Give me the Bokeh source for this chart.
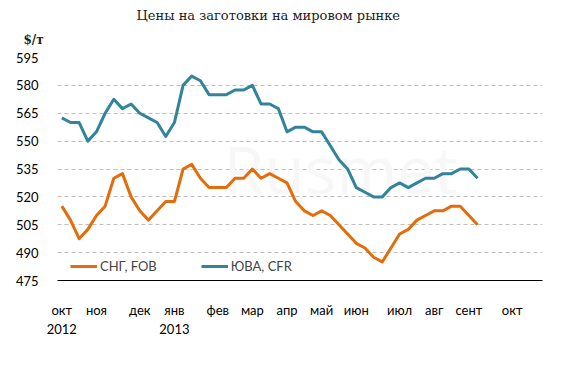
from bokeh.plotting import figure
from bokeh.models import Legend, LegendItem, FixedTicker, Label, Range1d, Title
from bokeh.embed import file_html
from bokeh.resources import INLINE

# weekly price observations, Oct 2012 - Sep 2013 ($/t)
weeks = list(range(49))
cis_fob = [515, 507.5, 497.5, 502.5, 510, 515, 530, 532.5, 520, 512.5,
           507.5, 512.5, 517.5, 517.5, 535, 537.5, 530, 525, 525, 525,
           530, 530, 535, 530, 532.5, 530, 527.5, 517.5, 512.5, 510,
           512.5, 510, 505, 500, 495, 492.5, 487.5, 485, 492.5, 500,
           502.5, 507.5, 510, 512.5, 512.5, 515, 515, 510, 505]
sea_cfr = [562.5, 560, 560, 550, 555, 565, 572.5, 567.5, 570, 565,
           562.5, 560, 552.5, 560, 580, 585, 582.5, 575, 575, 575,
           577.5, 577.5, 580, 570, 570, 567.5, 555, 557.5, 557.5, 555,
           555, 547.5, 540, 535, 525, 522.5, 520, 520, 525, 527.5,
           525, 527.5, 530, 530, 532.5, 532.5, 535, 535, 530]

month_pos = [0, 4, 9, 13, 18, 22, 26, 30, 34, 39, 43, 47, 52]
month_labels = ["окт\n2012", "ноя", "дек", "янв\n2013", "фев", "мар", "апр",
                "май", "июн", "июл", "авг", "сент", "окт"]
y_ticks = [475, 490, 505, 520, 535, 550, 565, 580, 595]

series_names = ["СНГ, FOB", "ЮВА, CFR"]
title_text = "Цены на заготовки на мировом рынке"
unit_text = "$/т"

p = figure(width=579, height=367, x_range=Range1d(-0.5, 55.5),
           y_range=Range1d(475, 595), output_backend="svg",
           toolbar_location=None, min_border_left=57, min_border_right=37,
           min_border_top=57, min_border_bottom=87, title=None)
p.outline_line_color = None
p.background_fill_color = "white"
p.border_fill_color = "white"

# watermark
wm = Label(x=32.2, y=535.5, text="Rusmet", text_align="center",
           text_baseline="middle", text_font="Open Sans",
           text_font_size="66px", text_color="#F7F7F7", level="underlay")
p.add_layout(wm)

r1 = p.line(weeks, cis_fob, line_color="#E46C0A", line_width=3, line_join="round")
r2 = p.line(weeks, sea_cfr, line_color="#31849B", line_width=3, line_join="round")

# axes
p.xaxis.ticker = FixedTicker(ticks=month_pos)
p.xaxis.major_label_overrides = {pos: lab for pos, lab in zip(month_pos, month_labels)}
p.xaxis.major_tick_line_color = None
p.xaxis.minor_tick_line_color = None
p.xaxis.axis_line_color = "black"
p.xaxis.axis_line_width = 1
p.xaxis.major_label_standoff = 15
p.xaxis.major_label_text_font = "Lato"
p.xaxis.major_label_text_font_size = "13px"
p.xaxis.major_label_text_color = "black"

p.yaxis.ticker = FixedTicker(ticks=y_ticks)
p.yaxis.axis_line_color = None
p.yaxis.major_tick_line_color = None
p.yaxis.minor_tick_line_color = None
p.yaxis.major_label_standoff = 13
p.yaxis.major_label_text_font = "Lato"
p.yaxis.major_label_text_font_size = "13px"
p.yaxis.major_label_text_color = "black"

p.xgrid.grid_line_color = None
p.ygrid.grid_line_color = "#BFBFBF"
p.ygrid.grid_line_dash = "4 3"
p.ygrid.grid_line_width = 1

legend = Legend(items=[LegendItem(label=series_names[0], renderers=[r1]),
                       LegendItem(label=series_names[1], renderers=[r2])],
                orientation="horizontal", location=(13, 4),
                border_line_color=None, background_fill_alpha=0,
                padding=0, margin=0, spacing=44, glyph_width=27,
                glyph_height=20, label_height=20, label_standoff=3,
                label_text_font="Lato", label_text_font_size="13px")
p.add_layout(legend)

p.add_layout(Title(text=unit_text, align="left", offset=-34, standoff=22,
                   text_font="DejaVu Serif", text_font_size="12px",
                   text_font_style="bold", text_color="#222222"), "above")
p.add_layout(Title(text=title_text, align="left", offset=79, standoff=-6,
                   text_font="DejaVu Serif", text_font_size="13px",
                   text_font_style="normal", text_color="#222222"), "above")

open("out.html", "w").write(file_html(p, INLINE))
